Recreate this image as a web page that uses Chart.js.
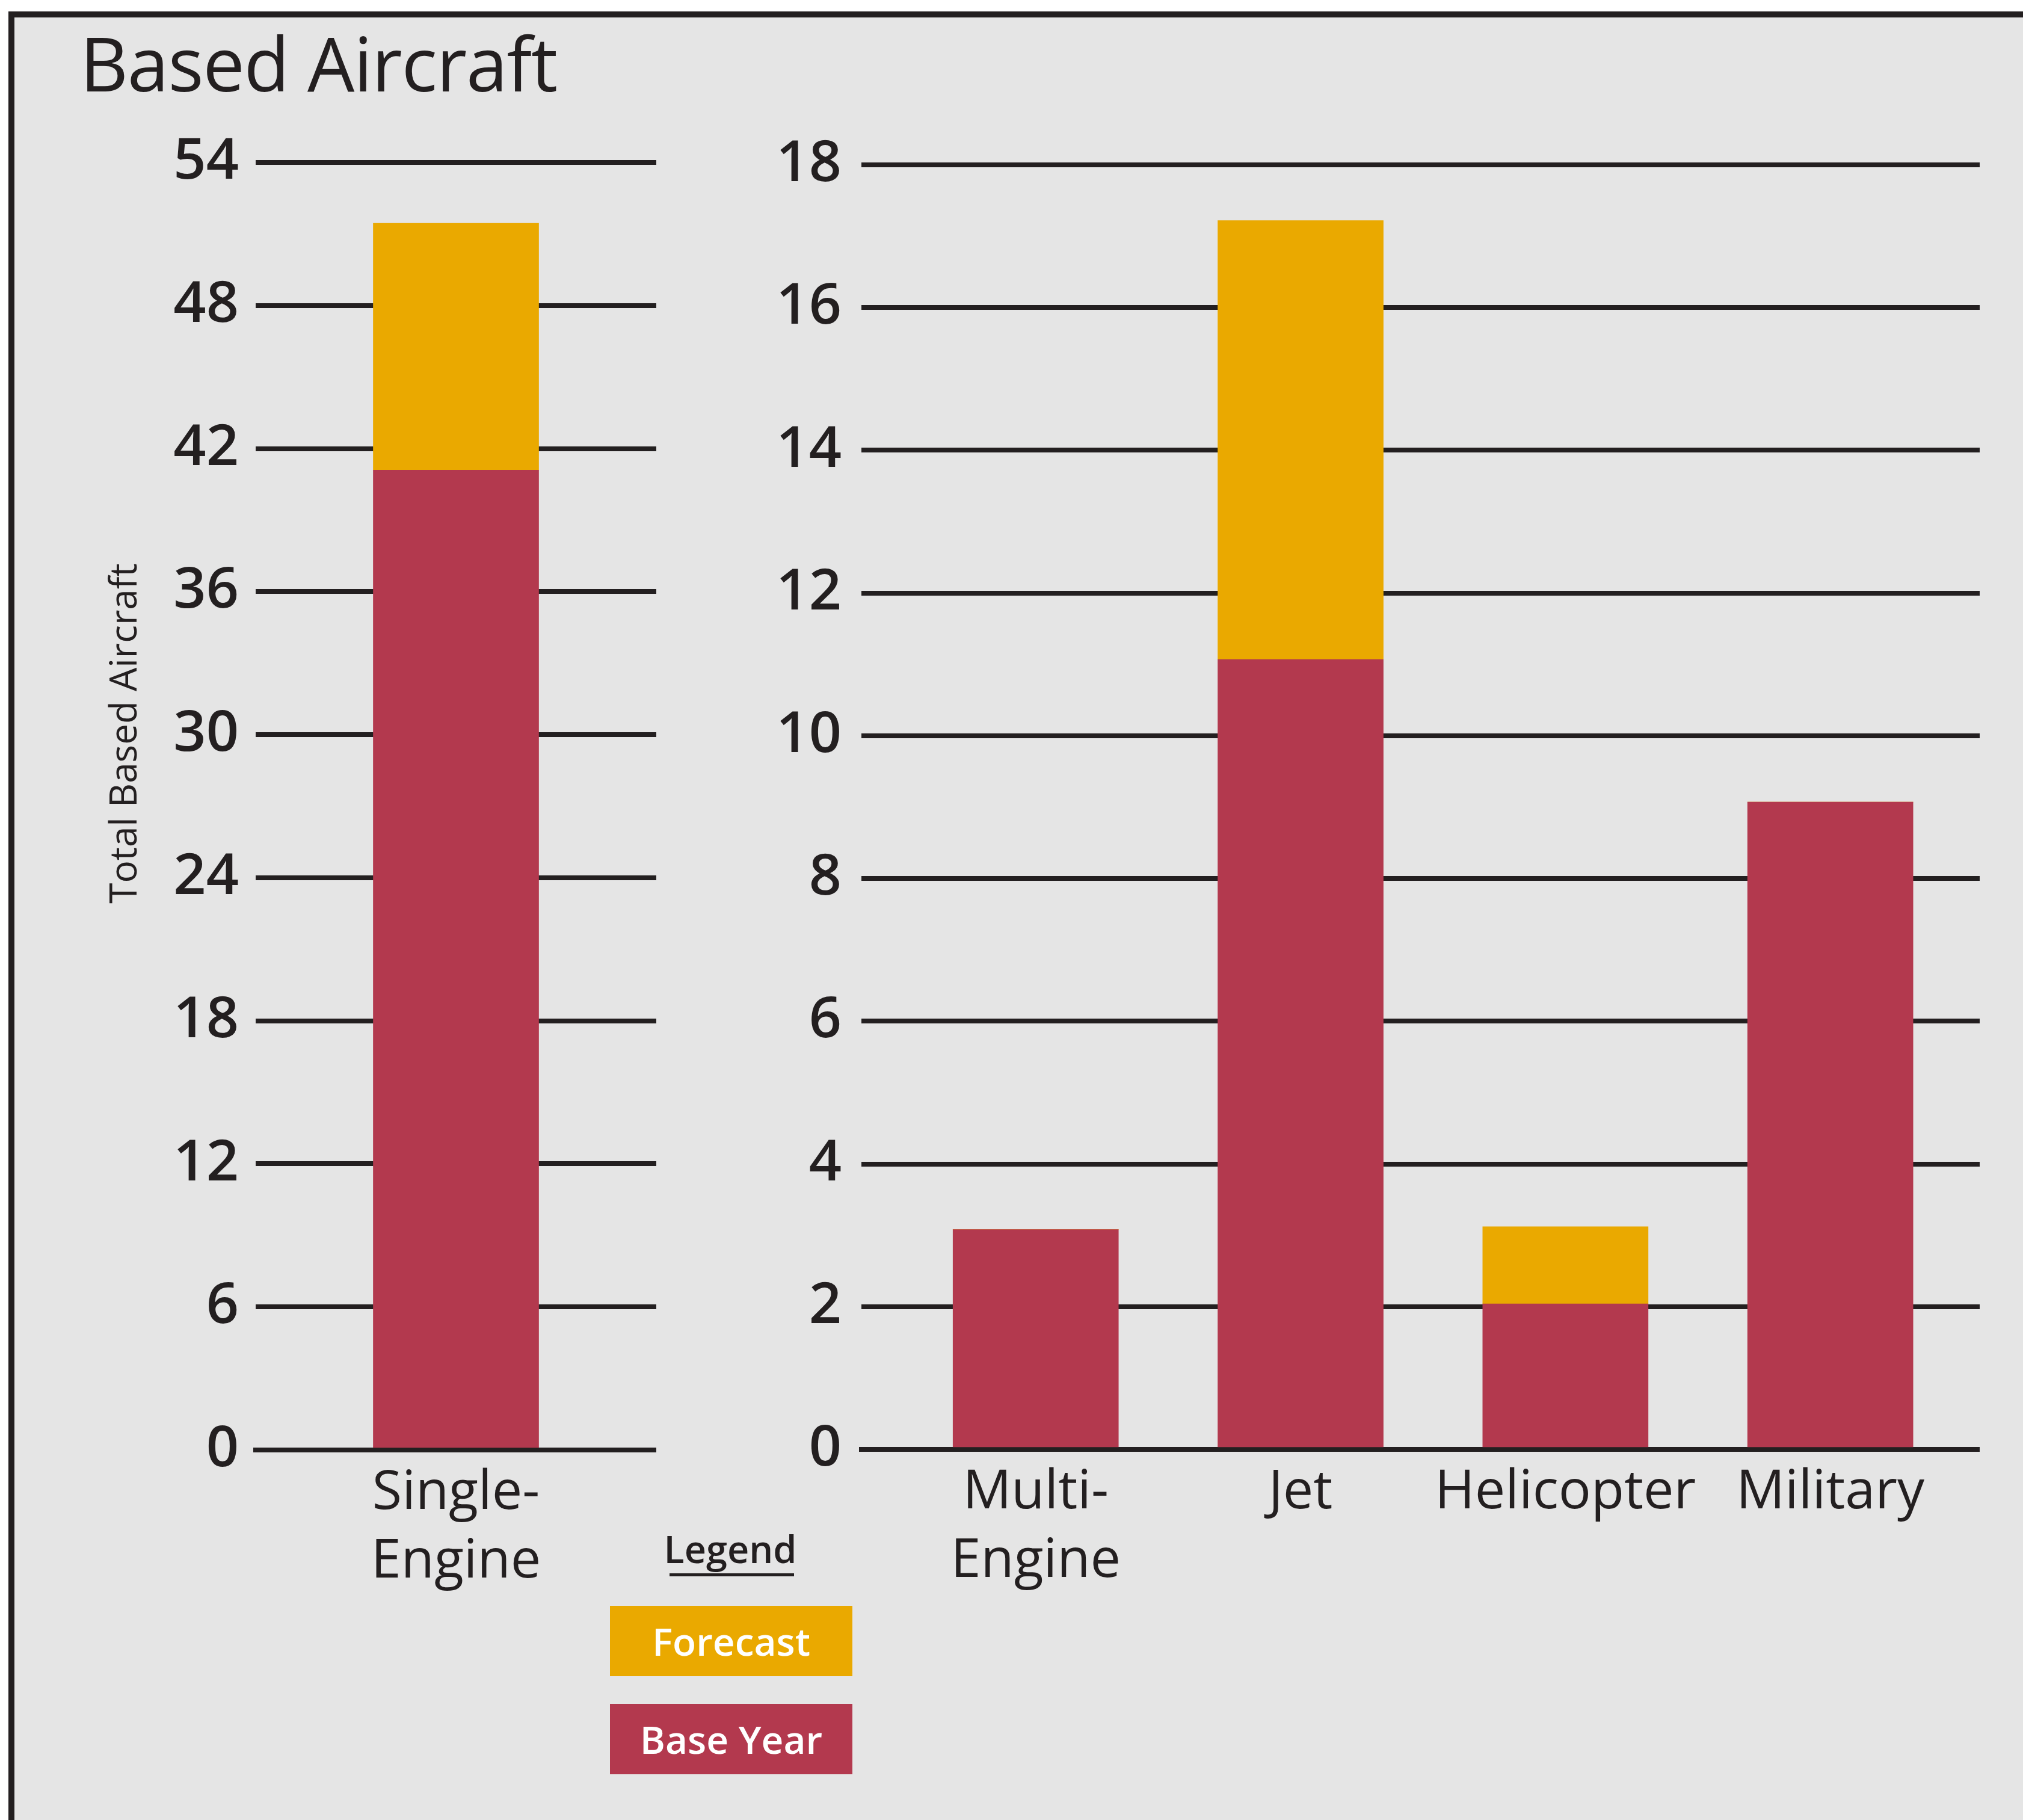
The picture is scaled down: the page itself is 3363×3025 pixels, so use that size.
<!DOCTYPE html>
<html>
<head>
<meta charset="utf-8">
<script src="https://cdn.jsdelivr.net/npm/chart.js@4.4.1/dist/chart.umd.min.js"></script>
<style>
  html, body { margin: 0; padding: 0; background: #ffffff; }
  body { width: 3363px; height: 3025px; position: relative; overflow: hidden; font-family: 'Open Sans', sans-serif; color: #231F20; }
  #frame { position: absolute; left: 14px; top: 19px; width: 3349px; height: 3006px; box-sizing: border-box;
           border-left: 10px solid #231F20; border-top: 10px solid #231F20; background: #E5E5E5; }
  #title { position: absolute; left: 133px; top: 42px; font-size: 124px; line-height: 1; font-weight: 400; white-space: nowrap; letter-spacing: -1.3px; }
  #ytitle { position: absolute; left: 203px; top: 1219px; font-size: 62px; line-height: 1; white-space: nowrap;
            transform: translate(-50%, -50%) rotate(-90deg); }
  canvas { position: absolute; }
  #leftChart { left: 0; top: 0; }
  #rightChart { left: 1100px; top: 0; }
  #legendHead { position: absolute; left: 1214px; top: 2542px; transform: translateX(-50%); font-size: 63px; line-height: 1; font-weight: 600; }
  #legendLine { position: absolute; left: 1113px; top: 2615px; width: 207px; height: 5px; background: #231F20; }
  .key { position: absolute; left: 1014px; width: 403px; height: 117px; color: #ffffff; font-size: 64px; font-weight: 600;
         line-height: 1; display: flex; align-items: center; justify-content: center; }
</style>
</head>
<body>
<div id="frame"></div>
<div id="title">Based Aircraft</div>
<div id="ytitle">Total Based Aircraft</div>
<canvas id="leftChart" width="1091" height="2700" style="width:1091px;height:2700px"></canvas>
<canvas id="rightChart" width="2191" height="2700" style="width:2191px;height:2700px"></canvas>
<div id="legendHead">Legend</div>
<div id="legendLine"></div>
<div class="key" id="keyForecast" style="top:2669px;background:#EAA900">Forecast</div>
<div class="key" id="keyBase" style="top:2832px;background:#B3394E">Base Year</div>

<script>
// left panel: single-engine on its own scale
var leftCats = [['Single-', 'Engine']];
var leftBase = [41.1];
var leftForecast = [10.35];

// right panel
var rightCats = [['Multi-', 'Engine'], 'Jet', 'Helicopter', 'Military'];
var rightBase = [3.08, 11.07, 2.04, 9.07];
var rightForecast = [0, 6.15, 1.08, 0];

var seriesNames = ['Base Year', 'Forecast'];
var colors = ['#B3394E', '#EAA900'];
var ink = '#231F20';

Chart.defaults.font.family = "'Open Sans', sans-serif";
Chart.defaults.color = ink;

function yAxis(max, step, width, pad) {
	return {
		stacked: true,
		min: 0,
		max: max,
		grid: { color: ink, lineWidth: 8, drawTicks: false },
		border: { display: false },
		ticks: { stepSize: step, padding: pad, color: ink, font: { size: 95, weight: '600' } },
		afterFit: function (s) { s.width = width; }
	};
}

function xFont() {
	return { size: 90, weight: '400', lineHeight: 1.267 };
}

var baseOpts = {
	responsive: false,
	animation: false,
	devicePixelRatio: 1,
	plugins: { legend: { display: false }, tooltip: { enabled: false } }
};

new Chart(document.getElementById('leftChart'), {
	type: 'bar',
	data: {
		labels: leftCats,
		datasets: [
			{ label: seriesNames[0], data: leftBase, backgroundColor: colors[0], barThickness: 275, borderWidth: 0 },
			{ label: seriesNames[1], data: leftForecast, backgroundColor: colors[1], barThickness: 275, borderWidth: 0 }
		]
	},
	options: Object.assign({}, baseOpts, {
		layout: { padding: { top: 270, left: 0, right: 0, bottom: 0 } },
		scales: {
			x: {
				stacked: true,
				z: 1,
				grid: { display: false },
				border: { display: true, color: ink, width: 8 },
				ticks: { padding: 7, color: ink, font: xFont(), maxRotation: 0, autoSkip: false },
				afterFit: function (s) { s.height = 290; }
			},
			y: yAxis(54, 6, 425, 28)
		}
	})
});

function toPoints(vals) {
	return vals.map(function (v, i) { return { x: i, y: v }; });
}

new Chart(document.getElementById('rightChart'), {
	type: 'bar',
	data: {
		datasets: [
			{ label: seriesNames[0], data: toPoints(rightBase), backgroundColor: colors[0], barThickness: 275, borderWidth: 0 },
			{ label: seriesNames[1], data: toPoints(rightForecast), backgroundColor: colors[1], barThickness: 275, borderWidth: 0 }
		]
	},
	options: Object.assign({}, baseOpts, {
		layout: { padding: { top: 274, left: 0, right: 0, bottom: 0 } },
		scales: {
			x: {
				type: 'linear',
				stacked: true,
				offset: false,
				min: -0.658,
				max: 3.564,
				z: 1,
				grid: { display: false },
				border: { display: true, color: ink, width: 8 },
				afterBuildTicks: function (s) {
					s.ticks = rightCats.map(function (c, i) { return { value: i }; });
				},
				ticks: {
					padding: 7, color: ink, font: xFont(), maxRotation: 0, autoSkip: false,
					callback: function (v) { return rightCats[v]; }
				},
				afterFit: function (s) { s.height = 291; }
			},
			y: yAxis(18, 2, 332, 33)
		}
	})
});
</script>
</body>
</html>
